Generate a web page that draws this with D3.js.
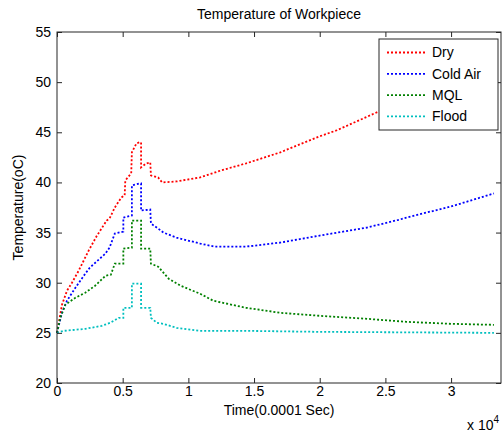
<!DOCTYPE html>
<html>
<head>
<meta charset="utf-8">
<script src="https://cdn.jsdelivr.net/npm/d3@7"></script>
<style>
  body { margin: 0; background: #fff; }
  svg text { font-family: "Liberation Sans", Arial, sans-serif; fill: #000; }
</style>
</head>
<body>
<div id="chart"></div>
<script>
// time in units of 0.0001 s, temperature in deg C
const dryTime  = [0, 130, 380, 760, 1140, 1650, 2410, 3000, 3780, 4000, 4400, 4900, 5150, 5200, 5650, 5700, 6050, 6300, 6400, 6400, 6800, 7100, 7150, 7700, 8000, 9100, 10900, 12500, 14400, 17000, 20000, 21300, 24200, 27000, 30000, 33260];
const dryTemp  = [25, 26.0, 27.8, 29.2, 30.0, 31.2, 33.2, 34.6, 36.2, 36.4, 37.5, 38.5, 38.7, 40.2, 40.9, 43.0, 43.9, 44.0, 44.0, 41.5, 41.9, 42.0, 40.7, 40.5, 40.0, 40.1, 40.5, 41.2, 41.9, 43.0, 44.6, 45.2, 46.9, 48.5, 50.2, 52.2];

const airTime  = [0, 130, 380, 760, 1400, 2150, 2500, 3680, 4000, 4400, 5050, 5050, 5700, 5700, 6300, 6400, 6400, 7100, 7150, 7700, 8100, 9100, 10900, 12000, 14400, 17000, 20000, 23600, 26100, 26600, 30000, 33260];
const airTemp  = [25, 25.7, 27.0, 28.2, 29.5, 30.9, 31.5, 32.9, 33.5, 34.9, 35.1, 36.5, 36.7, 39.7, 39.9, 39.9, 37.2, 37.3, 35.9, 35.4, 35.0, 34.5, 33.9, 33.6, 33.6, 34.0, 34.7, 35.5, 36.3, 36.5, 37.6, 38.9];

const mqlTime  = [0, 250, 630, 1400, 2150, 2900, 3700, 4100, 4400, 5050, 5050, 5700, 5700, 6400, 6400, 7100, 7150, 7700, 8500, 9400, 10900, 11900, 14400, 17000, 20000, 23600, 26600, 30000, 33260];
const mqlTemp  = [25, 26.5, 27.8, 28.5, 29.0, 29.7, 30.7, 30.8, 31.9, 31.9, 33.4, 33.5, 36.2, 36.2, 33.4, 33.4, 31.9, 31.6, 30.4, 29.7, 28.9, 28.2, 27.5, 27.0, 26.7, 26.4, 26.1, 25.9, 25.8];

const floodTime = [0, 500, 2150, 3400, 4050, 4700, 5050, 5050, 5700, 5700, 6400, 6400, 7100, 7150, 7600, 8100, 9100, 10900, 14400, 20000, 33260];
const floodTemp = [25, 25.2, 25.4, 25.7, 26.0, 26.5, 26.5, 27.5, 27.5, 29.9, 29.9, 27.5, 27.5, 26.5, 26.0, 25.9, 25.5, 25.2, 25.2, 25.1, 25.0];

const seriesNames = ["Dry", "Cold Air", "MQL", "Flood"];
const seriesColors = ["#ff0000", "#0000ff", "#008000", "#00bfbf"];
const xTicks = [0, 5000, 10000, 15000, 20000, 25000, 30000];
const yTicks = [20, 25, 30, 35, 40, 45, 50, 55];

const series = [
  { name: seriesNames[0], color: seriesColors[0], values: dryTime.map((t, i) => [t, dryTemp[i]]) },
  { name: seriesNames[1], color: seriesColors[1], values: airTime.map((t, i) => [t, airTemp[i]]) },
  { name: seriesNames[2], color: seriesColors[2], values: mqlTime.map((t, i) => [t, mqlTemp[i]]) },
  { name: seriesNames[3], color: seriesColors[3], values: floodTime.map((t, i) => [t, floodTemp[i]]) }
];

const W = 504, H = 432;
const margin = { top: 32, right: 3, bottom: 49, left: 57 };
const w = W - margin.left - margin.right;
const h = H - margin.top - margin.bottom;

const svg = d3.select("#chart").append("svg")
    .attr("width", W)
    .attr("height", H);

const g = svg.append("g")
    .attr("transform", "translate(" + margin.left + "," + margin.top + ")");

const x = d3.scaleLinear().domain([0, 33800]).range([0, w]);
const y = d3.scaleLinear().domain([20, 55]).range([h, 0]);

const axisColor = "#262626";

// lines
const line = d3.line().x(d => x(d[0])).y(d => y(d[1]));

g.append("g").selectAll("path")
    .data(series).enter()
    .append("path")
    .attr("d", d => line(d.values))
    .style("fill", "none")
    .style("stroke", d => d.color)
    .style("stroke-width", 1.8)
    .style("stroke-dasharray", "2,2");

// axes, ticks pointing inward like matlab
const styleAxis = sel => {
  sel.select(".domain").remove();
  sel.selectAll("line").style("stroke", axisColor);
  sel.selectAll("text").style("font-size", "14px").style("font-family", "Liberation Sans, Arial, sans-serif").style("fill", "#000");
};

g.append("g")
    .attr("transform", "translate(0," + h + ")")
    .call(d3.axisBottom(x).tickValues(xTicks).tickSizeInner(-5).tickSizeOuter(0).tickPadding(3)
      .tickFormat(d => d3.format("")(d / 10000)))
    .call(styleAxis);

g.append("g")
    .call(d3.axisLeft(y).tickValues(yTicks).tickSizeInner(-5).tickSizeOuter(0).tickPadding(6))
    .call(styleAxis);

g.append("g")
    .call(d3.axisTop(x).tickValues(xTicks).tickSizeInner(-5).tickSizeOuter(0).tickFormat(""))
    .call(styleAxis);

g.append("g")
    .attr("transform", "translate(" + w + ",0)")
    .call(d3.axisRight(y).tickValues(yTicks).tickSizeInner(-5).tickSizeOuter(0).tickFormat(""))
    .call(styleAxis);

g.append("rect")
    .attr("width", w)
    .attr("height", h)
    .style("fill", "none")
    .style("stroke", axisColor)
    .style("stroke-width", 1);

// titles
svg.append("text")
    .attr("x", margin.left + w / 2)
    .attr("y", 19)
    .attr("text-anchor", "middle")
    .style("font-size", "14px")
    .text("Temperature of Workpiece");

svg.append("text")
    .attr("x", margin.left + w / 2)
    .attr("y", 415)
    .attr("text-anchor", "middle")
    .style("font-size", "14px")
    .text("Time(0.0001 Sec)");

svg.append("text")
    .attr("transform", "translate(23," + (margin.top + h / 2) + ") rotate(-90)")
    .attr("text-anchor", "middle")
    .style("font-size", "14px")
    .text("Temperature(oC)");

const mult = svg.append("text")
    .attr("x", 467)
    .attr("y", 430)
    .style("font-size", "14px");
mult.append("tspan").text("x 10");
mult.append("tspan").attr("dy", -7).style("font-size", "10px").text("4");

// legend
const legend = svg.append("g").attr("transform", "translate(379,39)");
legend.append("rect")
    .attr("width", 119)
    .attr("height", 91)
    .style("fill", "#fff")
    .style("stroke", axisColor);

const item = legend.selectAll(".item")
    .data(series).enter()
    .append("g")
    .attr("class", "item")
    .attr("transform", (d, i) => "translate(0," + (13.5 + i * 21.3) + ")");

item.append("line")
    .attr("x1", 8).attr("x2", 47)
    .style("stroke", d => d.color)
    .style("stroke-width", 1.8)
    .style("stroke-dasharray", "2,2");

item.append("text")
    .attr("x", 53)
    .attr("dy", "0.35em")
    .style("font-size", "14px")
    .text(d => d.name);
</script>
</body>
</html>
